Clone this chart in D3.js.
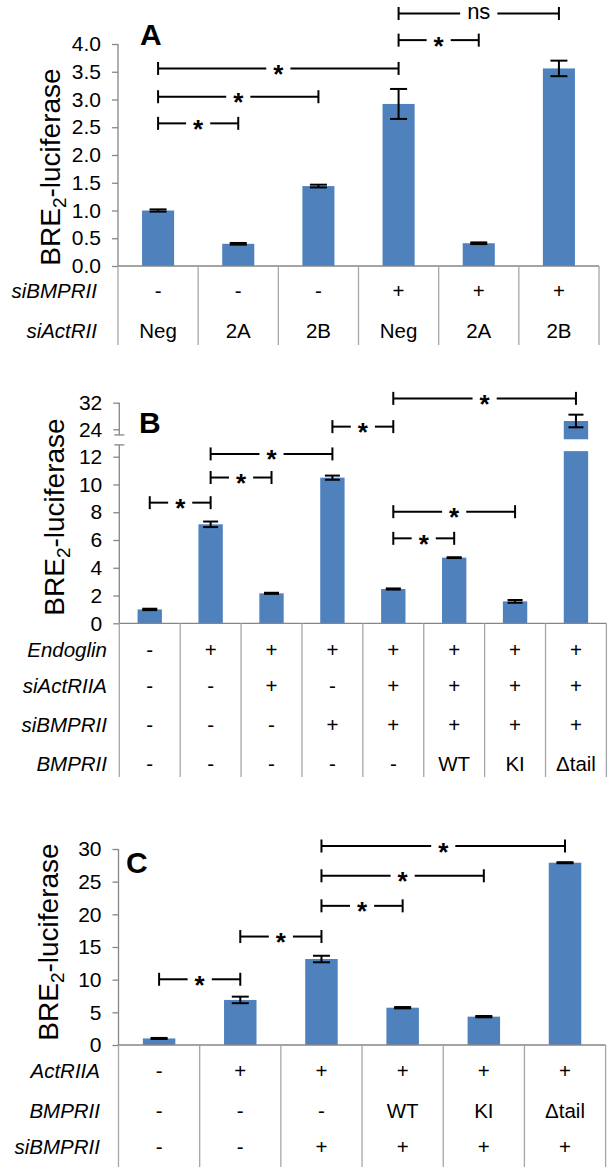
<!DOCTYPE html>
<html><head><meta charset="utf-8">
<script src="https://cdn.jsdelivr.net/npm/d3@7"></script>
<style>
body{margin:0;background:#fff}
svg{display:block}
text{font-family:"Liberation Sans", Arial, sans-serif; fill:#000}
</style>
</head><body>
<svg id="chart" width="612" height="1167"></svg>
<script>
// ---------------- DATA ----------------
// Panel A
const valuesA = [1.00, 0.40, 1.44, 2.92, 0.41, 3.56];
const errorsA = [0.02, 0.015, 0.025, 0.27, 0.015, 0.14];
const ticksA = [0, 0.5, 1.0, 1.5, 2.0, 2.5, 3.0, 3.5, 4.0];
const rowLabelsA = ["siBMPRII", "siActRII"];
const rowSiBMPRII_A = ["-", "-", "-", "+", "+", "+"];
const rowSiActRII_A = ["Neg", "2A", "2B", "Neg", "2A", "2B"];
const sigFromA = [0, 0, 0, 3, 3];
const sigToA = [1, 2, 3, 4, 5];
const sigLevelA = [2.57, 3.05, 3.56, 4.07, 4.55];
const sigLabelA = ["*", "*", "*", "*", "ns"];

// Panel B
const valuesB = [1.00, 7.13, 2.16, 10.49, 2.47, 4.73, 1.58, 26.5];
const errorsB = [0.05, 0.2, 0.04, 0.15, 0.04, 0.03, 0.1, 1.9];
const ticksBLower = [0, 2, 4, 6, 8, 10, 12];
const ticksBUpper = [24, 32];
const rowLabelsB = ["Endoglin", "siActRIIA", "siBMPRII", "BMPRII"];
const rowEndoglinB = ["-", "+", "+", "+", "+", "+", "+", "+"];
const rowSiActRIIA_B = ["-", "-", "+", "-", "+", "+", "+", "+"];
const rowSiBMPRII_B = ["-", "-", "-", "+", "+", "+", "+", "+"];
const rowBMPRII_B = ["-", "-", "-", "-", "-", "WT", "KI", "Δtail"];
const sigFromB = [0, 1, 1, 3, 4, 4, 4];
const sigToB = [1, 2, 3, 4, 5, 6, 7];
const sigLevelB = [8.69, 10.5, 12.2, 24.8, 6.12, 8.04, 33.3];
const sigLabelB = ["*", "*", "*", "*", "*", "*", "*"];

// Panel C
const valuesC = [1.0, 6.9, 13.16, 5.71, 4.34, 27.9];
const errorsC = [0.08, 0.5, 0.5, 0.1, 0.1, 0.08];
const ticksC = [0, 5, 10, 15, 20, 25, 30];
const rowLabelsC = ["ActRIIA", "BMPRII", "siBMPRII"];
const rowActRIIA_C = ["-", "+", "+", "+", "+", "+"];
const rowBMPRII_C = ["-", "-", "-", "WT", "KI", "Δtail"];
const rowSiBMPRII_C = ["-", "-", "+", "+", "+", "+"];
const sigFromC = [0, 1, 2, 2, 2];
const sigToC = [1, 2, 3, 4, 5];
const sigLevelC = [10.06, 16.6, 21.3, 25.9, 30.46];
const sigLabelC = ["*", "*", "*", "*", "*"];

// ---------------- DRAWING ----------------
const svg = d3.select("#chart");
const BAR = "#4f81bd";
const AXIS = "#868686";
const GRID = "#a6a6a6";

function drawTitle(g, cx, cy) {
  const t = g.append("text")
    .attr("transform", `translate(${cx},${cy}) rotate(-90)`)
    .attr("text-anchor", "middle")
    .style("font-size", "28px");
  t.append("tspan").text("BRE");
  t.append("tspan").text("2").style("font-size", "19px").attr("dy", 6);
  t.append("tspan").text("-luciferase").attr("dy", -6);
}

function drawTable(g, x, y0, bottom, rows, labels, baselines, labelRight) {
  const n = x.domain().length;
  const bw = x.bandwidth();
  const edges = d3.range(n + 1).map(i => x.range()[0] + i * bw);
  g.selectAll(null).data(edges).enter().append("line")
    .attr("x1", d => d).attr("x2", d => d)
    .attr("y1", y0).attr("y2", bottom)
    .attr("stroke", GRID).attr("stroke-width", 1.3);
  rows.forEach((row, r) => {
    g.append("text").attr("x", labelRight).attr("y", baselines[r])
      .attr("text-anchor", "end").style("font-style", "italic")
      .style("font-size", "20.5px").text(labels[r]);
    g.selectAll(null).data(row).enter().append("text")
      .attr("x", (d, i) => x(i) + bw / 2).attr("y", baselines[r])
      .attr("text-anchor", "middle").style("font-size", "20.5px")
      .text(d => d);
  });
}

function drawSig(g, x, yf, from, to, level, label) {
  from.forEach((f, k) => {
    const x1 = x(f) + x.bandwidth() / 2;
    const x2 = x(to[k]) + x.bandwidth() / 2;
    const yy = yf(level[k]);
    const mid = (x1 + x2) / 2;
    const isStar = label[k] === "*";
    const fs = isStar ? 26 : 22;
    const t = g.append("text").attr("x", mid)
      .attr("y", yy + (isStar ? fs * 0.56 : fs * 0.27))
      .attr("text-anchor", "middle").style("font-size", fs + "px")
      .style("font-weight", isStar ? "bold" : "normal")
      .text(label[k]);
    const w = t.node().getComputedTextLength();
    const gap = w / 2 + 7;
    const segs = [[x1, mid - gap], [mid + gap, x2]];
    segs.forEach(s => g.append("line").attr("x1", s[0]).attr("x2", s[1])
      .attr("y1", yy).attr("y2", yy).attr("stroke", "#000").attr("stroke-width", 2));
    [x1, x2].forEach(xx => g.append("line").attr("x1", xx).attr("x2", xx)
      .attr("y1", yy - 6.5).attr("y2", yy + 6.5).attr("stroke", "#000").attr("stroke-width", 2));
  });
}

function styleAxis(ax) {
  ax.selectAll(".tick line").attr("stroke", AXIS).attr("stroke-width", 1.3);
  ax.selectAll(".tick text").style("font-size", "21px").attr("fill", "#000")
    .style("font-family", '"Liberation Sans", Arial, sans-serif');
  ax.select(".domain").remove();
}

function drawBarsAndErrors(g, x, yTop, yBottomOf, values, errors, capW) {
  const bw = x.bandwidth();
  const w = bw * 0.4;
  values.forEach((v, i) => {
    const segs = yBottomOf(v);
    segs.forEach(s => g.append("rect")
      .attr("x", x(i) + (bw - w) / 2).attr("width", w)
      .attr("y", s[0]).attr("height", s[1] - s[0])
      .attr("fill", BAR));
    const cx = x(i) + bw / 2;
    const y1 = yTop(v + errors[i]), y2 = yTop(v - errors[i]);
    g.append("line").attr("x1", cx).attr("x2", cx).attr("y1", y1).attr("y2", y2)
      .attr("stroke", "#000").attr("stroke-width", 2);
    [y1, y2].forEach(yy => g.append("line").attr("x1", cx - capW / 2).attr("x2", cx + capW / 2)
      .attr("y1", yy).attr("y2", yy).attr("stroke", "#000").attr("stroke-width", 2));
  });
}

// ---------- Panel A ----------
(function () {
  const g = svg.append("g");
  const x = d3.scaleBand().domain(d3.range(valuesA.length)).range([118, 599]);
  const y = d3.scaleLinear().domain([0, 4]).range([266, 44]);
  const ax = g.append("g").attr("transform", "translate(118,0)")
    .call(d3.axisLeft(y).tickValues(ticksA).tickSize(6).tickSizeOuter(0).tickPadding(11).tickFormat(d3.format(".1f")));
  styleAxis(ax);
  g.append("line").attr("x1", 118).attr("x2", 118).attr("y1", y(4)).attr("y2", y(0)).attr("stroke", AXIS).attr("stroke-width", 1.3);
  drawBarsAndErrors(g, x, y, v => [[y(v), y(0)]], valuesA, errorsA, 17);
  g.append("line").attr("x1", 118).attr("x2", 599).attr("y1", y(0)).attr("y2", y(0)).attr("stroke", AXIS).attr("stroke-width", 1.3);
  drawTable(g, x, y(0), 345, [rowSiBMPRII_A, rowSiActRII_A], rowLabelsA, [298, 338], 97);
  drawSig(g, x, y, sigFromA, sigToA, sigLevelA, sigLabelA);
  drawTitle(g, 60, 167);
  g.append("text").attr("x", 140).attr("y", 45).style("font-size", "30px").style("font-weight", "bold").text("A");
})();

// ---------- Panel B ----------
(function () {
  const g = svg.append("g");
  const X0 = 119.3;
  const x = d3.scaleBand().domain(d3.range(valuesB.length)).range([X0, 606.4]);
  const yL = d3.scaleLinear().domain([0, 12]).range([623.3, 456.7]);
  const yU = d3.scaleLinear().domain([24, 32]).range([429.3, 402.7]);
  const yB = v => v > 18 ? yU(v) : yL(v);
  const axL = g.append("g").attr("transform", `translate(${X0},0)`)
    .call(d3.axisLeft(yL).tickValues(ticksBLower).tickSize(6).tickSizeOuter(0).tickPadding(11));
  styleAxis(axL);
  const axU = g.append("g").attr("transform", `translate(${X0},0)`)
    .call(d3.axisLeft(yU).tickValues(ticksBUpper).tickSize(6).tickSizeOuter(0).tickPadding(11));
  styleAxis(axU);
  const upBottom = yU(22.3), lowTop = yL(12.85);
  g.append("line").attr("x1", X0).attr("x2", X0).attr("y1", yU(32)).attr("y2", upBottom).attr("stroke", AXIS).attr("stroke-width", 1.3);
  g.append("line").attr("x1", X0).attr("x2", X0).attr("y1", lowTop).attr("y2", yL(0)).attr("stroke", AXIS).attr("stroke-width", 1.3);
  [upBottom, lowTop].forEach(yy => g.append("line").attr("x1", X0 - 5).attr("x2", X0 + 5).attr("y1", yy).attr("y2", yy).attr("stroke", AXIS).attr("stroke-width", 1.3));
  drawBarsAndErrors(g, x, yB, v => v > 18 ? [[yU(v), yU(21)], [yL(12.4), yL(0)]] : [[yL(v), yL(0)]], valuesB, errorsB, 15);
  g.append("line").attr("x1", X0).attr("x2", 606.4).attr("y1", yL(0)).attr("y2", yL(0)).attr("stroke", AXIS).attr("stroke-width", 1.3);
  drawTable(g, x, yL(0), 777, [rowEndoglinB, rowSiActRIIA_B, rowSiBMPRII_B, rowBMPRII_B], rowLabelsB, [657, 693, 732, 771], 107);
  drawSig(g, x, yB, sigFromB, sigToB, sigLevelB, sigLabelB);
  drawTitle(g, 64, 517);
  g.append("text").attr("x", 139).attr("y", 433).style("font-size", "30px").style("font-weight", "bold").text("B");
})();

// ---------- Panel C ----------
(function () {
  const g = svg.append("g");
  const X0 = 118.5;
  const x = d3.scaleBand().domain(d3.range(valuesC.length)).range([X0, 605.6]);
  const y = d3.scaleLinear().domain([0, 30]).range([1045, 849]);
  const ax = g.append("g").attr("transform", `translate(${X0},0)`)
    .call(d3.axisLeft(y).tickValues(ticksC).tickSize(6).tickSizeOuter(0).tickPadding(11));
  styleAxis(ax);
  g.append("line").attr("x1", X0).attr("x2", X0).attr("y1", y(30)).attr("y2", y(0)).attr("stroke", AXIS).attr("stroke-width", 1.3);
  drawBarsAndErrors(g, x, y, v => [[y(v), y(0)]], valuesC, errorsC, 17);
  g.append("line").attr("x1", X0).attr("x2", 605.6).attr("y1", y(0)).attr("y2", y(0)).attr("stroke", AXIS).attr("stroke-width", 1.3);
  drawTable(g, x, y(0), 1167, [rowActRIIA_C, rowBMPRII_C, rowSiBMPRII_C], rowLabelsC, [1078, 1118, 1154], 100);
  drawSig(g, x, y, sigFromC, sigToC, sigLevelC, sigLabelC);
  drawTitle(g, 58, 942);
  g.append("text").attr("x", 126).attr("y", 873).style("font-size", "30px").style("font-weight", "bold").text("C");
})();
</script>
</body></html>
